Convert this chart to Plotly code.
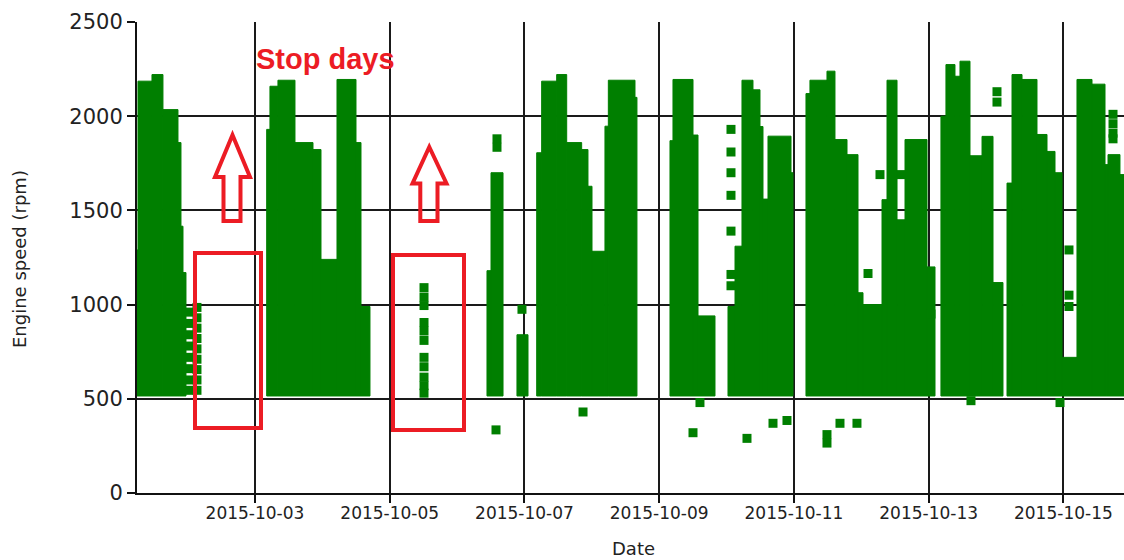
import pandas as pd
import plotly.graph_objects as go

GREEN = "#007F00"
RED = "#EC1C24"

# ---- running periods: start, end, highest engine speed (rpm) ----
seg_start = [
    "2015-10-01 05:30", "2015-10-01 06:19", "2015-10-01 11:18", "2015-10-01 15:13",
    "2015-10-01 20:34", "2015-10-01 21:38", "2015-10-01 22:21",
    "2015-10-03 04:10", "2015-10-03 05:20", "2015-10-03 08:11", "2015-10-03 14:15",
    "2015-10-03 20:40", "2015-10-03 23:31", "2015-10-04 05:13", "2015-10-04 11:59",
    "2015-10-04 13:46",
    "2015-10-06 10:39", "2015-10-06 12:05", "2015-10-06 21:20",
    "2015-10-07 04:22", "2015-10-07 06:08", "2015-10-07 11:29", "2015-10-07 15:03",
    "2015-10-07 20:23", "2015-10-07 22:38", "2015-10-08 00:04", "2015-10-08 04:41",
    "2015-10-08 05:53", "2015-10-08 15:23",
    "2015-10-09 03:51", "2015-10-09 04:55", "2015-10-09 12:03", "2015-10-09 13:50",
    "2015-10-10 00:31", "2015-10-10 03:01", "2015-10-10 05:30", "2015-10-10 09:25",
    "2015-10-10 11:55", "2015-10-10 12:59", "2015-10-10 14:46", "2015-10-10 22:58",
    "2015-10-11 04:18", "2015-10-11 05:43", "2015-10-11 11:47", "2015-10-11 14:38",
    "2015-10-11 18:55", "2015-10-11 22:50", "2015-10-12 00:37", "2015-10-12 07:23",
    "2015-10-12 09:10", "2015-10-12 12:44", "2015-10-12 15:35", "2015-10-12 23:25",
    "2015-10-13 04:23", "2015-10-13 06:10", "2015-10-13 09:23", "2015-10-13 11:10",
    "2015-10-13 14:44", "2015-10-13 19:01", "2015-10-13 22:56",
    "2015-10-14 03:55", "2015-10-14 05:42", "2015-10-14 09:16", "2015-10-14 14:36",
    "2015-10-14 18:10", "2015-10-14 21:01", "2015-10-14 23:31",
    "2015-10-15 04:51", "2015-10-15 10:12", "2015-10-15 14:50", "2015-10-15 15:54",
    "2015-10-15 20:10",
]
seg_end = [
    "2015-10-01 06:19", "2015-10-01 11:18", "2015-10-01 15:13", "2015-10-01 20:34",
    "2015-10-01 21:38", "2015-10-01 22:21", "2015-10-01 23:25",
    "2015-10-03 05:20", "2015-10-03 08:11", "2015-10-03 14:15", "2015-10-03 20:40",
    "2015-10-03 23:31", "2015-10-04 05:13", "2015-10-04 11:59", "2015-10-04 13:46",
    "2015-10-04 16:58",
    "2015-10-06 12:05", "2015-10-06 16:22", "2015-10-07 01:16",
    "2015-10-07 06:08", "2015-10-07 11:29", "2015-10-07 15:03", "2015-10-07 20:23",
    "2015-10-07 22:38", "2015-10-08 00:04", "2015-10-08 04:41", "2015-10-08 05:53",
    "2015-10-08 15:23", "2015-10-08 16:05",
    "2015-10-09 04:55", "2015-10-09 12:03", "2015-10-09 13:50", "2015-10-09 19:53",
    "2015-10-10 03:01", "2015-10-10 05:30", "2015-10-10 09:25", "2015-10-10 11:55",
    "2015-10-10 12:59", "2015-10-10 14:46", "2015-10-10 22:58", "2015-10-10 23:40",
    "2015-10-11 05:43", "2015-10-11 11:47", "2015-10-11 14:38", "2015-10-11 18:55",
    "2015-10-11 22:50", "2015-10-12 00:37", "2015-10-12 07:23", "2015-10-12 09:10",
    "2015-10-12 12:44", "2015-10-12 15:35", "2015-10-12 23:25", "2015-10-13 02:16",
    "2015-10-13 06:10", "2015-10-13 09:23", "2015-10-13 11:10", "2015-10-13 14:44",
    "2015-10-13 19:01", "2015-10-13 22:56", "2015-10-14 02:29",
    "2015-10-14 05:42", "2015-10-14 09:16", "2015-10-14 14:36", "2015-10-14 18:10",
    "2015-10-14 21:01", "2015-10-14 23:31", "2015-10-15 04:51",
    "2015-10-15 10:12", "2015-10-15 14:50", "2015-10-15 15:54", "2015-10-15 20:10",
    "2015-10-15 22:00",
]
seg_top = [
    1290, 2186, 2221, 2035, 1860, 1416, 1170,
    1930, 2159, 2191, 1860, 1823, 1240, 2195, 1860, 990,
    1180, 1700, 840,
    1806, 2186, 2221, 1860, 1823, 1628, 1283, 1947, 2191, 2100,
    1870, 2195, 1900, 940,
    990, 1310, 2191, 2140, 1945, 1560, 1894, 1700,
    2120, 2191, 2239, 1876, 1796, 1063, 1000, 1557, 2191, 1450, 1876, 1200,
    2000, 2274, 2212, 2292, 1790, 1893, 1117,
    1645, 2221, 2195, 1903, 1813, 1700, 720,
    2195, 2170, 1743, 1796, 1690,
]
run_floor = 515  # lowest speed while running (rpm)

# ---- isolated samples ----
pt_time = (
    ["2015-10-02 00:50"] * 8 + ["2015-10-02 03:20"] * 9
    + ["2015-10-05 12:13"] * 11
    + ["2015-10-06 14:13", "2015-10-06 14:13", "2015-10-06 13:52", "2015-10-06 23:07"]
    + ["2015-10-07 20:52"]
    + ["2015-10-09 12:03", "2015-10-09 14:32"]
    + ["2015-10-10 01:35"] * 7
    + ["2015-10-10 07:17", "2015-10-10 16:33", "2015-10-10 21:32"]
    + ["2015-10-12 02:24", "2015-10-12 06:40", "2015-10-12 14:09", "2015-10-11 11:47",
       "2015-10-11 11:47", "2015-10-11 16:25", "2015-10-11 22:28", "2015-10-13 00:50"]
    + ["2015-10-14 00:21", "2015-10-14 00:21", "2015-10-13 15:05", "2015-10-14 22:48",
       "2015-10-15 02:00", "2015-10-15 02:00", "2015-10-15 02:00"]
    + ["2015-10-15 17:41"] * 4
)
pt_rpm = (
    [960, 900, 840, 780, 720, 660, 600, 545] + [985, 930, 875, 820, 765, 710, 655, 600, 545]
    + [1090, 1040, 995, 905, 860, 810, 720, 670, 615, 570, 530]
    + [1880, 1835, 335, 975]
    + [430]
    + [320, 480]
    + [1930, 1810, 1700, 1580, 1390, 1160, 1100]
    + [290, 370, 385]
    + [1165, 1690, 1690, 310, 265, 370, 370, 950]
    + [2130, 2075, 490, 480, 1290, 1050, 990]
    + [2010, 1960, 1910, 1880]
)

x_ticks = ["2015-10-03", "2015-10-05", "2015-10-07", "2015-10-09",
           "2015-10-11", "2015-10-13", "2015-10-15"]
y_ticks = [0, 500, 1000, 1500, 2000, 2500]
x_range = ["2015-10-01 05:58", "2015-10-15 21:36"]
y_range = [0, 2500]

# ---------------------------------------------------------------
W, H = 1124, 560
ML, MR, MT, MB = 137, 0, 22, 67

start = pd.to_datetime(pd.Series(seg_start))
end = pd.to_datetime(pd.Series(seg_end))
mid = start + (end - start) / 2
width_ms = ((end - start).dt.total_seconds() * 1000).tolist()

fig = go.Figure()
fig.add_trace(go.Bar(
    x=mid, y=[t - run_floor for t in seg_top], base=run_floor, width=width_ms,
    marker=dict(color=GREEN, line=dict(color=GREEN, width=1)),
    hoverinfo="skip",
))
fig.add_trace(go.Scatter(
    x=pd.to_datetime(pd.Series(pt_time)), y=pt_rpm, mode="markers",
    marker=dict(symbol="square", size=9, color=GREEN, line=dict(width=0)),
))


def px(x):
    return (x - ML) / (W - ML - MR)


def py(y):
    return (H - MB - y) / (H - MT - MB)


def arrow_path(pts):
    s = "M" + " L".join(f"{px(a):.5f},{py(b):.5f}" for a, b in pts) + " Z"
    return s


shapes = [
    dict(type="rect", xref="paper", yref="paper", x0=px(195), x1=px(261), y0=py(428), y1=py(253),
         line=dict(color=RED, width=4)),
    dict(type="rect", xref="paper", yref="paper", x0=px(393), x1=px(464), y0=py(430), y1=py(255),
         line=dict(color=RED, width=4)),
    dict(type="path", xref="paper", yref="paper",
         path=arrow_path([(232.5, 135), (250, 177), (240.5, 177), (240.5, 221),
                          (223.5, 221), (223.5, 177), (215, 177)]),
         line=dict(color=RED, width=4)),
    dict(type="path", xref="paper", yref="paper",
         path=arrow_path([(429.3, 147), (446.5, 183.5), (437.5, 183.5), (437.5, 221),
                          (420.3, 221), (420.3, 183.5), (412.5, 183.5)]),
         line=dict(color=RED, width=4)),
]

annotations = [
    dict(text="<b>Stop days</b>", xref="paper", yref="paper", x=px(325), y=py(59),
         xanchor="center", yanchor="middle", showarrow=False,
         font=dict(family="Liberation Sans", size=29, color=RED)),
    dict(text="Engine speed (rpm)", xref="paper", yref="paper", x=px(19), y=py(259),
         xanchor="center", yanchor="middle", textangle=-90, showarrow=False,
         font=dict(family="DejaVu Sans", size=18, color="#222")),
    dict(text="Date", xref="paper", yref="paper", x=px(633), y=py(548),
         xanchor="center", yanchor="middle", showarrow=False,
         font=dict(family="DejaVu Sans", size=18, color="#222")),
]

axis_common = dict(
    showgrid=True, gridcolor="#1a1a1a", gridwidth=1.5,
    showline=True, linecolor="#111", linewidth=2,
    ticks="outside", ticklen=8, tickwidth=1.5, tickcolor="#111",
    zeroline=False,
)

fig.update_layout(
    width=W, height=H,
    margin=dict(l=ML, r=MR, t=MT, b=MB, pad=0),
    paper_bgcolor="white", plot_bgcolor="white",
    showlegend=False, barmode="overlay",
    shapes=shapes, annotations=annotations,
    xaxis=dict(type="date", range=x_range, tickvals=x_ticks, tickformat="%Y-%m-%d",
               ticklabelstandoff=-4,
               tickfont=dict(family="DejaVu Sans", size=17, color="#222"), **axis_common),
    yaxis=dict(range=y_range, tickvals=y_ticks,
               tickfont=dict(family="DejaVu Sans", size=21, color="#222"), **axis_common),
)

fig.write_html("out.html", config={"displayModeBar": False},
               post_script="document.body.style.margin='0';document.body.style.overflow='hidden';")
